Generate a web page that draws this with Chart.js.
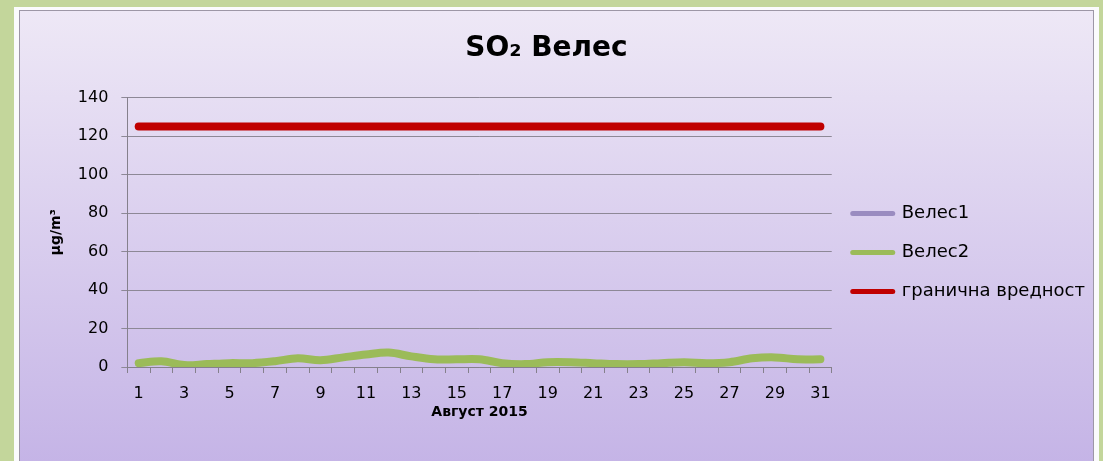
<!DOCTYPE html>
<html>
<head>
<meta charset="utf-8">
<script src="https://cdn.jsdelivr.net/npm/chart.js@4"></script>
<style>
  html, body { margin: 0; padding: 0; }
  body { width: 1103px; height: 461px; background: #c3d69b; position: relative; overflow: hidden; }
  .okvir { position: absolute; left: 14px; top: 7px; width: 1085px; height: 470px; background: #fbfbfd; }
  .panel { position: absolute; left: 5px; top: 3px; width: 1073px; height: 460px;
           border: 1px solid #9d97a6; background: linear-gradient(#eee8f6, #c4b3e6); }
  canvas { position: absolute; left: 0; top: 0; }
</style>
</head>
<body>
<div class="okvir"><div class="panel"><canvas id="myChart" width="1073" height="450"></canvas></div></div>
<script>
const ctx = document.getElementById('myChart').getContext('2d');
const fonte = "'DejaVu Sans', 'Open Sans', sans-serif";

// Податоци
const denovi = [];
for (let d = 1; d <= 31; d++) denovi.push(String(d));
const veles1 = [];   // нема мерења
const veles2 = [2, 3, 1, 1.5, 2, 2, 3, 4.5, 3.5, 5, 6.5, 7.5, 5.5, 4, 4, 4, 2, 1.5, 2.5, 2.5, 2, 1.5, 1.5, 2, 2.5, 2, 2.5, 4.5, 5, 4, 4];
const granica = [125, 125, 125, 125, 125, 125, 125, 125, 125, 125, 125, 125, 125, 125, 125, 125, 125, 125, 125, 125, 125, 125, 125, 125, 125, 125, 125, 125, 125, 125, 125];
const yTikovi = [0, 20, 40, 60, 80, 100, 120, 140];

let grafico = new Chart(ctx, {
    type: 'line',
    data: {
        labels: denovi,
        datasets: [
            { label: 'Велес1', data: veles1, borderColor: '#9a8cc0', backgroundColor: '#9a8cc0', borderWidth: 8, pointRadius: 0, borderCapStyle: 'round' },
            { label: 'Велес2', data: veles2, borderColor: '#9bbb59', backgroundColor: '#9bbb59', borderWidth: 8, pointRadius: 0, tension: 0.35, borderCapStyle: 'round', borderJoinStyle: 'round' },
            { label: 'гранична вредност', data: granica, borderColor: '#c00000', backgroundColor: '#c00000', borderWidth: 8, pointRadius: 0, borderCapStyle: 'round' }
        ]
    },
    options: {
        responsive: false,
        animation: false,
        layout: { padding: { left: -22, right: -2, top: 8, bottom: 40 } },
        plugins: {
            title: {
                display: true,
                text: 'SO₂ Велес',
                color: '#000',
                font: { family: fonte, size: 28, weight: 'bold' },
                padding: { top: 13, bottom: 32 }
            },
            legend: {
                position: 'right',
                title: { display: true, text: ' ', font: { size: 10 }, padding: { top: 27, bottom: 26 } },
                labels: {
                    color: '#000',
                    font: { family: fonte, size: 18 },
                    usePointStyle: true,
                    pointStyleWidth: 40,
                    boxWidth: 40,
                    boxHeight: 6,
                    padding: 21,
                    generateLabels: function(chart) {
                        return chart.data.datasets.map((ds, i) => ({
                            text: ds.label,
                            fillStyle: ds.borderColor,
                            strokeStyle: ds.borderColor,
                            lineWidth: 5,
                            lineCap: 'round',
                            pointStyle: 'line',
                            fontColor: '#000',
                            datasetIndex: i
                        }));
                    }
                }
            },
            tooltip: { enabled: false }
        },
        scales: {
            x: {
                offset: true,
                grid: { display: true, drawOnChartArea: false, offset: true, drawTicks: true, tickLength: 6, color: '#85808c' },
                border: { color: '#85808c' },
                ticks: {
                    autoSkip: false, maxRotation: 0, color: '#000', padding: 11,
                    font: { family: fonte, size: 16 },
                    callback: function(val, index) { return index % 2 === 0 ? this.getLabelForValue(val) : ''; }
                },
                title: { display: true, text: 'Август 2015', color: '#000', font: { family: fonte, size: 14, weight: 'bold' }, padding: { top: -10, bottom: 0 } }
            },
            y: {
                min: 0, max: 140,
                afterBuildTicks: (axis) => { axis.ticks = yTikovi.map(v => ({ value: v })); },
                grid: { color: '#8d8896', tickLength: 6 },
                border: { color: '#85808c' },
                ticks: { color: '#000', padding: 13, font: { family: fonte, size: 16 } },
                title: { display: true, text: 'µg/m³', color: '#000', font: { family: fonte, size: 14, weight: 'bold' }, padding: { top: 50, bottom: 0 } }
            }
        }
    }
});
</script>
</body>
</html>
